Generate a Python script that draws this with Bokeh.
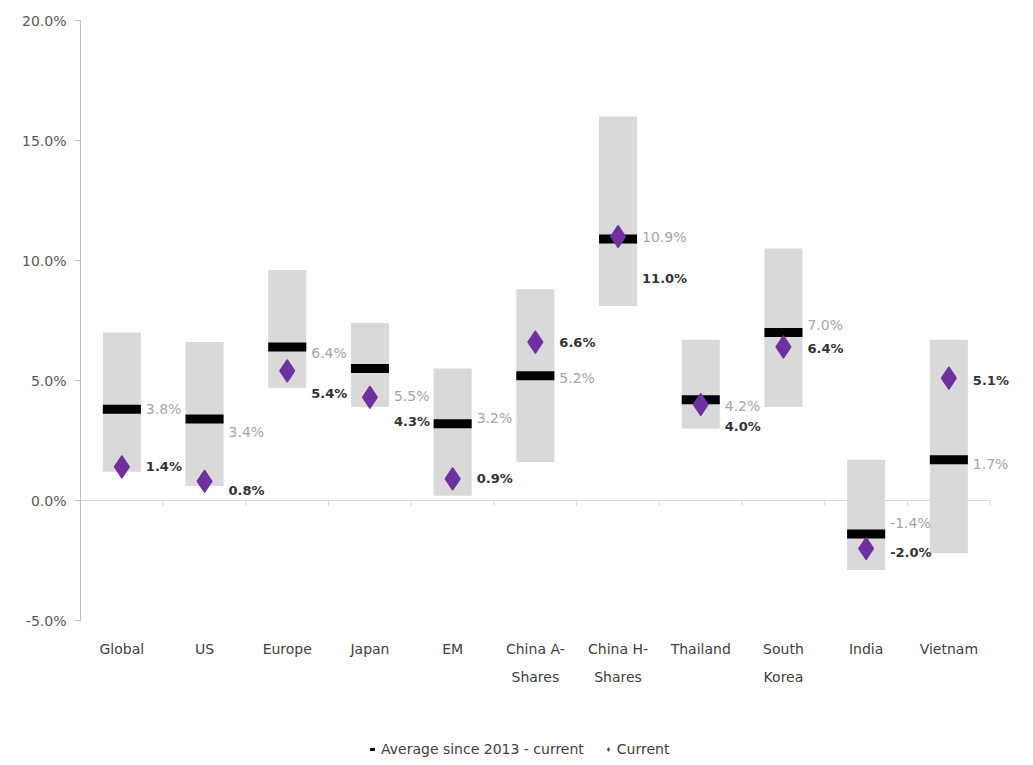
from bokeh.plotting import figure
from bokeh.models import (Range1d, FixedTicker, PrintfTickFormatter,
                          Legend, LegendItem, ColumnDataSource)
from bokeh.embed import file_html
from bokeh.resources import INLINE
from bokeh.core.properties import value

categories = ["Global", "US", "Europe", "Japan", "EM", "China A-\nShares",
              "China H-\nShares", "Thailand", "South\nKorea", "India", "Vietnam"]
range_high = [7.0, 6.6, 9.6, 7.4, 5.5, 8.8, 16.0, 6.7, 10.5, 1.7, 6.7]
range_low = [1.2, 0.6, 4.7, 3.9, 0.2, 1.6, 8.1, 3.0, 3.9, -2.9, -2.2]
average = [3.8, 3.4, 6.4, 5.5, 3.2, 5.2, 10.9, 4.2, 7.0, -1.4, 1.7]
current = [1.4, 0.8, 5.4, 4.3, 0.9, 6.6, 11.0, 4.0, 6.4, -2.0, 5.1]
y_ticks = [-5, 0, 5, 10, 15, 20]
legend_labels = ["Average since 2013 - current", "Current"]

# label nudges (screen px, positive = down) to mimic the reference placement
avg_nudge = [0, 13, 6, 27, -6, 2, -2, 6, -8, -11, 4]
cur_nudge = [0, 9, 23, 24, 0, 0, 42, 22, 2, 4, 2]

FONT = "DejaVu Sans"
Y_MIN, Y_MAX = y_ticks[0], y_ticks[-1]
N = len(categories)
xpos = [i + 0.5 for i in range(N)]

src = ColumnDataSource(dict(
    x=xpos, cat=categories, high=range_high, low=range_low, avg=average, cur=current,
    avg_lbl=[f"{v:.1f}%" for v in average], cur_lbl=[f"{v:.1f}%" for v in current],
    avg_off=avg_nudge, cur_off=cur_nudge, base=[Y_MIN] * N,
))

W, H = 1025, 757
TOP, LEFT = 20, 80
CAT_PX = 82.7            # pixel width of one category slot
PX_PER_UNIT = 600 / (Y_MAX - Y_MIN)
frame_h = H - TOP
frame_w = W - LEFT

p = figure(width=W, height=H, output_backend="svg", toolbar_location=None,
           x_range=Range1d(0, frame_w / CAT_PX),
           y_range=Range1d(Y_MAX - frame_h / PX_PER_UNIT, Y_MAX),
           min_border_top=TOP, min_border_left=LEFT, min_border_right=0,
           min_border_bottom=0)
p.outline_line_color = None
p.xgrid.grid_line_color = None
p.ygrid.grid_line_color = None
p.xaxis.visible = False

# zero line and small ticks at category boundaries
p.segment(x0=[0], x1=[N], y0=[0], y1=[0], line_color="#d9d9d9", line_width=1)
bx = list(range(N + 1))
p.segment(x0=bx, x1=bx, y0=[0] * len(bx), y1=[-0.22] * len(bx),
          line_color="#d9d9d9", line_width=1)

# range bars
p.vbar(x="x", top="high", bottom="low", width=0.46, source=src,
       fill_color="#d9d9d9", line_color=None)
# average markers
p.rect(x="x", y="avg", width=0.46, height=9, height_units="screen", source=src,
       fill_color="black", line_color=None)
# current
p.scatter(x="x", y="cur", marker="diamond", size=21, source=src,
          fill_color="#7030a0", line_color="#7030a0", line_width=2, line_join="round")

# value labels
p.text(x="x", y="avg", text="avg_lbl", source=src, x_offset=24,
       y_offset="avg_off", text_baseline="middle", text_align="left",
       text_font=value(FONT), text_font_size="14px", text_color="#a6a6a6")
p.text(x="x", y="cur", text="cur_lbl", source=src, x_offset=24,
       y_offset="cur_off", text_baseline="middle", text_align="left",
       text_font=value(FONT), text_font_size="13px", text_font_style="bold",
       text_color="#333333")

# category labels
p.text(x="x", y="base", text="cat", source=src, y_offset=20,
       text_baseline="top", text_align="center", text_line_height=1.75,
       text_font=value(FONT), text_font_size="14px", text_color="#404040")

# y axis
ya = p.yaxis[0]
ya.bounds = (Y_MIN, Y_MAX)
ya.ticker = FixedTicker(ticks=y_ticks)
ya.formatter = PrintfTickFormatter(format="%.1f%%")
ya.axis_line_color = "#bfbfbf"
ya.major_tick_line_color = "#bfbfbf"
ya.major_tick_out = 6
ya.major_tick_in = 0
ya.minor_tick_line_color = None
ya.major_label_standoff = 8
ya.major_label_text_font = FONT
ya.major_label_text_font_size = "14px"
ya.major_label_text_color = "#595959"

# legend proxies (single point outside the visible x range)
r_dash = p.scatter(x=[-1], y=[0], marker="dash", size=9, line_color="black", line_width=3)
r_dia = p.scatter(x=[-1], y=[0], marker="diamond", size=9, fill_color="#7030a0",
                  line_color=None)
legend = Legend(items=[LegendItem(label=legend_labels[0], renderers=[r_dash]),
                       LegendItem(label=legend_labels[1], renderers=[r_dia])],
                orientation="horizontal", location=(286, 0),
                background_fill_alpha=0, border_line_color=None,
                label_text_font=FONT, label_text_font_size="14px",
                label_text_color="#404040", glyph_width=12, glyph_height=16,
                label_standoff=3, spacing=18, padding=2, margin=0)
p.add_layout(legend)

open("out.html", "w").write(file_html(p, INLINE))
